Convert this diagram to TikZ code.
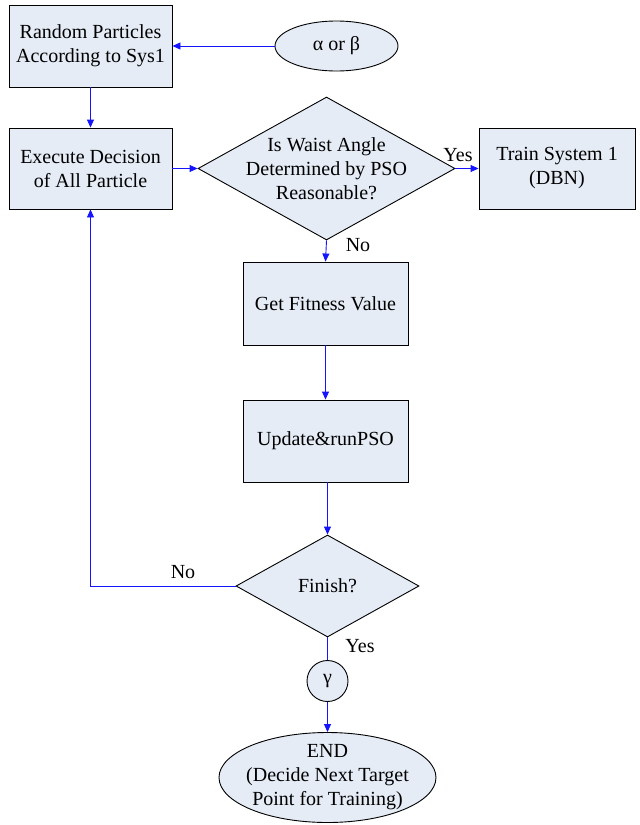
\documentclass[tikz,border=0pt]{standalone}
\usepackage{fontspec}
\setmainfont{Liberation Serif}
\usetikzlibrary{shapes.geometric,arrows.meta}
\definecolor{boxfill}{RGB}{229,236,246}
\definecolor{arrowblue}{RGB}{20,20,255}
\begin{document}
\begin{tikzpicture}[x=1pt,y=-1pt,
  every node/.style={font=\fontsize{20}{24}\selectfont},
  box/.style={draw=black,line width=0.9pt,fill=boxfill,inner sep=0pt,align=center},
  dia/.style={draw=black,line width=0.9pt,fill=boxfill,diamond,inner sep=0pt},
  ell/.style={draw=black,line width=0.9pt,fill=boxfill,ellipse,inner sep=0pt},
  txt/.style={align=center,inner sep=0pt},
  lab/.style={inner sep=0pt},
  conn/.style={draw=arrowblue,line width=0.9pt},
  arr/.style={conn,-{Triangle[length=8pt,width=7pt]}}]
\useasboundingbox (0,0) rectangle (640,825);
% nodes
\node[box,minimum width=163,minimum height=82] (rand) at (90.5,46) {Random Particles\\According to Sys1};
\node[ell,minimum width=123,minimum height=50] (ab) at (336.5,46) {α or β};
\node[box,minimum width=163,minimum height=81] (exec) at (90.5,168.5) {Execute Decision\\of All Particle};
\node[dia,minimum width=257,minimum height=143] (d1) at (326.5,168.5) {};
\node[txt] (d1t) at (326.5,168.5) {Is Waist Angle\\Determined by PSO\\Reasonable?};
\node[box,minimum width=156,minimum height=81] (train) at (557,168.5) {Train System 1\\(DBN)};
\node[box,minimum width=165,minimum height=83] (fit) at (325.5,303.5) {Get Fitness Value};
\node[box,minimum width=165,minimum height=82] (upd) at (325.5,441) {Update\&runPSO};
\node[dia,minimum width=183,minimum height=102] (d2) at (327.5,586) {};
\node[txt] (d2t) at (327.5,586) {Finish?};
\node[draw=black,line width=0.9pt,fill=boxfill,circle,minimum size=41,inner sep=0pt] (g) at (327.5,681) {γ};
\node[ell,minimum width=217,minimum height=90] (end) at (327.5,777.5) {};
\node[txt] (endt) at (327.5,777.5) {END\\(Decide Next Target\\Point for Training)};
% connectors
\draw[arr] (ab.west) -- (rand.east);
\draw[arr] (rand.south) -- (exec.north);
\draw[arr] (exec.east) -- (d1.west);
\draw[arr] (d1.east) -- (train.west);
\draw[arr] (d1.south) -- (fit.north);
\draw[arr] (fit.south) -- (upd.north);
\draw[arr] (upd.south -| d2.north) -- (d2.north);
\draw[arr] (d2.west) -| (exec.south);
\draw[conn] (d2.south) -- (g.north);
\draw[arr] (g.south) -- (end.north);
% labels
\node[lab] (yes1) at (458,155) {Yes};
\node[lab] (no1) at (358,245) {No};
\node[lab] (no2) at (183,572) {No};
\node[lab] (yes2) at (360,646) {Yes};
\end{tikzpicture}
\end{document}
